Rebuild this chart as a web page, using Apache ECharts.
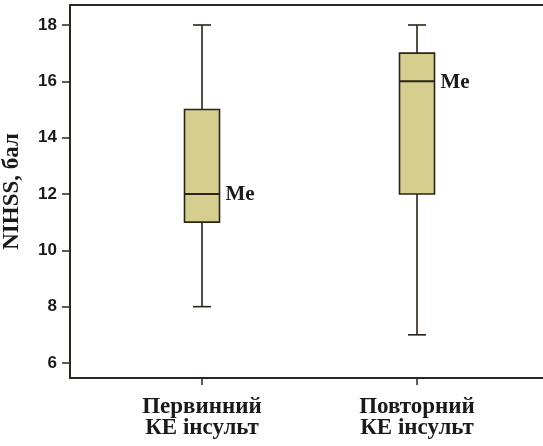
<!DOCTYPE html>
<html>
<head>
<meta charset="utf-8">
<script src="https://cdn.jsdelivr.net/npm/echarts@6/dist/echarts.min.js"></script>
<style>
html,body{margin:0;padding:0;background:#fff;}
#chart{width:543px;height:446px;}
</style>
</head>
<body>
<div id="chart"></div>
<script>
const categories = ['Первинний\nКЕ інсульт', 'Повторний\nКЕ інсульт'];
const whiskerLow = [8, 7];
const q1 = [11, 12];
const median = [12, 16];
const q3 = [15, 17];
const whiskerHigh = [18, 18];
const yTicks = [6, 8, 10, 12, 14, 16, 18];
const medianLabel = 'Me';

const data = categories.map((c, i) => [i, whiskerLow[i], q1[i], median[i], q3[i], whiskerHigh[i]]);

const axisColor = '#2e2420';
const boxFill = '#d6ce8e';
const boxStroke = '#2b2219';

const chart = echarts.init(document.getElementById('chart'), null, {renderer: 'canvas'});

chart.setOption({
  backgroundColor: '#fff',
  animation: false,
  grid: {left: 70, top: 5, right: 0, bottom: 68, containLabel: false, outerBoundsMode: 'none'},
  xAxis: [{
    type: 'value',
    min: -0.614,
    max: 1.586,
    splitLine: {show: false},
    axisLine: {show: true, onZero: false, lineStyle: {color: axisColor, width: 2}},
    axisTick: {show: true, customValues: [0, 1], length: 7, lineStyle: {color: axisColor, width: 1.5}},
    axisLabel: {
      customValues: [0, 1],
      formatter: v => categories[Math.round(v)] || '',
      fontFamily: 'Liberation Serif',
      fontWeight: 'bold',
      fontSize: 23,
      lineHeight: 21,
      color: '#1a1a1a',
      margin: 19
    }
  }, {
    type: 'value',
    position: 'top',
    min: -0.614,
    max: 1.586,
    splitLine: {show: false},
    axisLine: {show: true, onZero: false, lineStyle: {color: axisColor, width: 2}},
    axisTick: {show: false},
    axisLabel: {show: false}
  }],
  yAxis: {
    type: 'value',
    min: 5.467,
    max: 18.71,
    name: 'NIHSS, бал',
    nameLocation: 'middle',
    nameGap: 46,
    nameTextStyle: {fontFamily: 'Liberation Serif', fontWeight: 'bold', fontSize: 23, color: '#1a1a1a'},
    splitLine: {show: false},
    axisLine: {show: true, onZero: false, lineStyle: {color: axisColor, width: 2}},
    axisTick: {show: true, customValues: yTicks, length: 8, lineStyle: {color: axisColor, width: 1.5}},
    axisLabel: {
      customValues: yTicks,
      fontFamily: 'Liberation Sans',
      fontWeight: 'bold',
      fontSize: 17,
      color: '#1a1a1a',
      margin: 13
    }
  },
  series: [{
    type: 'custom',
    xAxisIndex: 0,
    yAxisIndex: 0,
    data: data,
    renderItem: function (params, api) {
      const x = api.value(0);
      const pLow = api.coord([x, api.value(1)]);
      const pQ1 = api.coord([x, api.value(2)]);
      const pMed = api.coord([x, api.value(3)]);
      const pQ3 = api.coord([x, api.value(4)]);
      const pHigh = api.coord([x, api.value(5)]);
      const halfBox = 17.5;
      const halfCap = 9;
      const cx = pMed[0];
      const line = {stroke: boxStroke, lineWidth: 1.6};
      return {
        type: 'group',
        children: [
          {type: 'line', shape: {x1: cx, y1: pHigh[1], x2: cx, y2: pQ3[1]}, style: line},
          {type: 'line', shape: {x1: cx, y1: pQ1[1], x2: cx, y2: pLow[1]}, style: line},
          {type: 'line', shape: {x1: cx - halfCap, y1: pHigh[1], x2: cx + halfCap, y2: pHigh[1]}, style: line},
          {type: 'line', shape: {x1: cx - halfCap, y1: pLow[1], x2: cx + halfCap, y2: pLow[1]}, style: line},
          {type: 'rect', shape: {x: cx - halfBox, y: pQ3[1], width: halfBox * 2, height: pQ1[1] - pQ3[1]},
            style: {fill: boxFill, stroke: boxStroke, lineWidth: 1.6}},
          {type: 'line', shape: {x1: cx - halfBox, y1: pMed[1], x2: cx + halfBox, y2: pMed[1]}, style: {stroke: boxStroke, lineWidth: 2}},
          {type: 'text', style: {
            text: medianLabel, x: cx + halfBox + 6, y: pMed[1] + 1,
            textVerticalAlign: 'middle', verticalAlign: 'middle',
            fontFamily: 'Liberation Serif', fontWeight: 'bold', fontSize: 21, fill: '#1a1a1a'
          }}
        ]
      };
    }
  }]
});
</script>
</body>
</html>
